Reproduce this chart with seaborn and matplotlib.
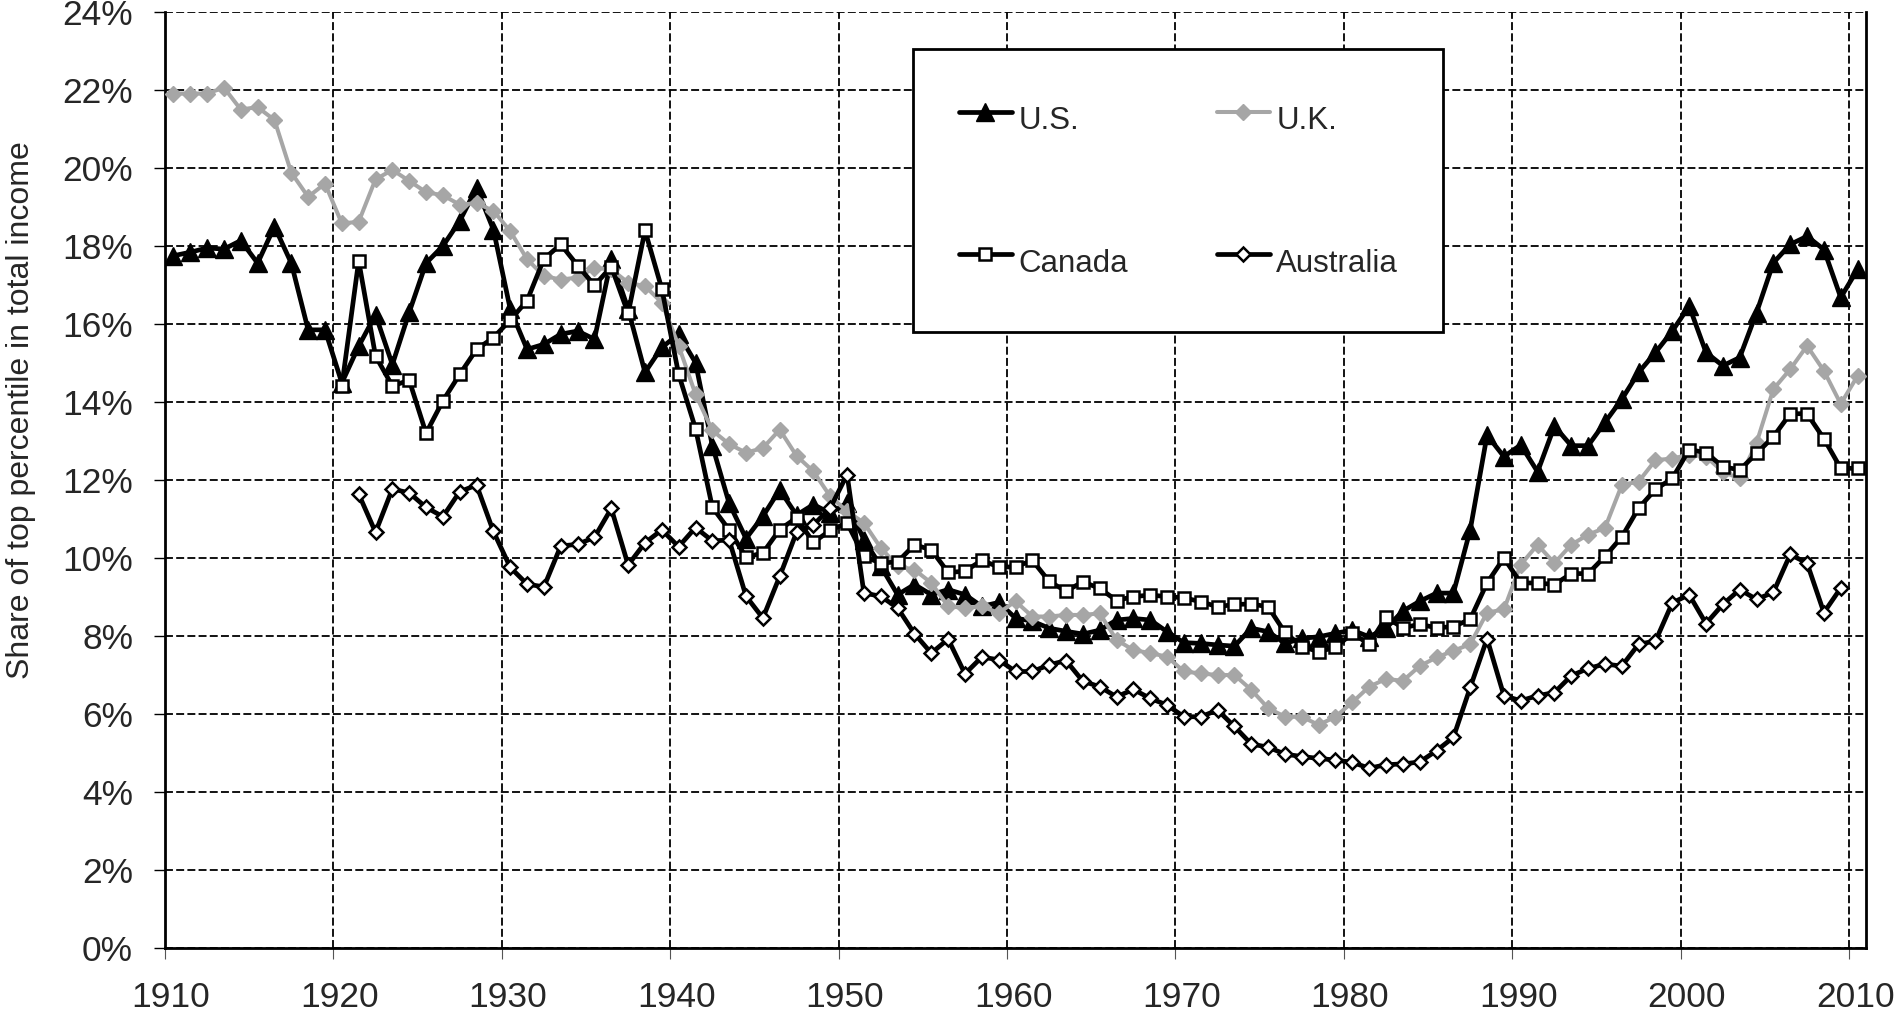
import matplotlib
matplotlib.use("Agg")
import matplotlib.pyplot as plt
from matplotlib.transforms import ScaledTranslation
import seaborn as sns
import pandas as pd

# ---------------- data (share of top 1% in total income, %) ----------------
us_years = list(range(1910, 2011))
us_share = [17.75, 17.84, 17.95, 17.92, 18.14, 17.56, 18.5, 17.56, 15.85, 15.85,
            14.49, 15.43, 16.24, 14.96, 16.3, 17.56, 18.0, 18.64, 19.49, 18.42,
            16.38, 15.35, 15.48, 15.74, 15.82, 15.61, 17.66, 16.38, 14.76, 15.4,
            15.74, 15.01, 12.88, 11.4, 10.5, 11.07, 11.75, 11.1, 11.37, 11.15,
            11.41, 10.47, 9.79, 9.06, 9.32, 9.06, 9.19, 9.06, 8.76, 8.86,
            8.46, 8.38, 8.2, 8.12, 8.05, 8.15, 8.41, 8.45, 8.41, 8.11,
            7.83, 7.81, 7.77, 7.74, 8.2, 8.11, 7.81, 7.94, 7.98, 8.07,
            8.15, 7.98, 8.2, 8.64, 8.89, 9.1, 9.1, 10.72, 13.15, 12.6,
            12.9, 12.21, 13.38, 12.88, 12.88, 13.48, 14.07, 14.76, 15.27, 15.82,
            16.46, 15.27, 14.93, 15.14, 16.29, 17.57, 18.04, 18.25, 17.91, 16.68,
            17.4]

uk_years = list(range(1910, 2011))
uk_share = [21.91, 21.91, 21.91, 22.06, 21.5, 21.56, 21.23, 19.88, 19.26, 19.6,
            18.58, 18.62, 19.71, 19.95, 19.67, 19.38, 19.3, 19.06, 19.1, 18.9,
            18.38, 17.66, 17.23, 17.14, 17.19, 17.44, 17.4, 17.06, 16.97, 16.55,
            15.44, 14.2, 13.27, 12.92, 12.7, 12.82, 13.29, 12.62, 12.22, 11.58,
            11.2, 10.9, 10.26, 9.79, 9.7, 9.36, 8.76, 8.72, 8.76, 8.59,
            8.89, 8.5, 8.5, 8.54, 8.54, 8.58, 7.9, 7.64, 7.56, 7.47,
            7.09, 7.04, 7.0, 7.0, 6.62, 6.15, 5.93, 5.93, 5.72, 5.93,
            6.3, 6.7, 6.9, 6.85, 7.23, 7.45, 7.62, 7.79, 8.6, 8.68,
            9.83, 10.34, 9.87, 10.34, 10.6, 10.77, 11.87, 11.96, 12.51, 12.55,
            12.65, 12.6, 12.21, 12.04, 12.95, 14.33, 14.84, 15.44, 14.8, 13.95,
            14.67]

canada_years = list(range(1920, 2011))
canada_share = [14.41, 17.62, 15.18, 14.41, 14.56, 13.2, 14.03, 14.71, 15.35, 15.65,
                16.1, 16.6, 17.67, 18.04, 17.5, 16.99, 17.47, 16.27, 18.4, 16.9,
                14.71, 13.32, 11.3, 10.72, 10.02, 10.13, 10.73, 11.03, 10.4, 10.71,
                10.9, 10.04, 9.87, 9.9, 10.34, 10.21, 9.63, 9.66, 9.94, 9.77,
                9.77, 9.94, 9.4, 9.15, 9.39, 9.22, 8.91, 9.01, 9.05, 9.01,
                8.98, 8.88, 8.75, 8.81, 8.82, 8.75, 8.09, 7.73, 7.6, 7.71,
                8.07, 7.79, 8.48, 8.21, 8.3, 8.21, 8.24, 8.43, 9.36, 10.0,
                9.36, 9.36, 9.32, 9.6, 9.6, 10.04, 10.54, 11.28, 11.76, 12.04,
                12.78, 12.7, 12.34, 12.26, 12.68, 13.11, 13.7, 13.7, 13.06, 12.3,
                12.3]

australia_years = list(range(1921, 2010))
australia_share = [11.64, 10.66, 11.77, 11.67, 11.3, 11.06, 11.7, 11.87, 10.68,
                   9.76, 9.33, 9.26, 10.31, 10.35, 10.53, 11.27, 9.82, 10.39, 10.72,
                   10.29, 10.78, 10.44, 10.46, 9.02, 8.46, 9.53, 10.66, 10.85, 11.28,
                   12.14, 9.1, 9.02, 8.72, 8.06, 7.56, 7.92, 7.03, 7.46, 7.39,
                   7.09, 7.09, 7.26, 7.37, 6.84, 6.7, 6.44, 6.63, 6.4, 6.23,
                   5.93, 5.93, 6.1, 5.68, 5.23, 5.15, 4.97, 4.91, 4.86, 4.82,
                   4.76, 4.61, 4.7, 4.72, 4.77, 5.06, 5.4, 6.68, 7.93, 6.47,
                   6.34, 6.47, 6.55, 6.98, 7.17, 7.28, 7.23, 7.79, 7.87, 8.85,
                   9.06, 8.32, 8.81, 9.19, 8.94, 9.12, 10.09, 9.87, 8.6, 9.23]

x_tick_labels = ["1910", "1920", "1930", "1940", "1950", "1960",
                 "1970", "1980", "1990", "2000", "2010"]
y_tick_values = [0, 2, 4, 6, 8, 10, 12, 14, 16, 18, 20, 22, 24]
y_tick_labels = [f"{v}%" for v in y_tick_values]
y_label = "Share of top percentile in total income"

# ---------------- style ----------------
sns.set_style("white")
plt.rcParams["font.family"] = ["Liberation Sans", "DejaVu Sans"]

fig = plt.figure(figsize=(19.01, 10.11), dpi=100)
ax = fig.add_axes([165 / 1901, 1 - 948 / 1011, (1866 - 165) / 1901, (948 - 12) / 1011])

series = [
    ("U.S.", us_years, us_share,
     dict(color="black", lw=3.4, marker="^", ms=13, mfc="black", mec="black", mew=1)),
    ("U.K.", uk_years, uk_share,
     dict(color="#A6A6A6", lw=2.9, marker="D", ms=8.5, mfc="#A6A6A6", mec="#A6A6A6", mew=1)),
    ("Canada", canada_years, canada_share,
     dict(color="black", lw=3.4, marker="s", ms=9.3, mfc="white", mec="black", mew=1.8)),
    ("Australia", australia_years, australia_share,
     dict(color="black", lw=3.4, marker="D", ms=7.6, mfc="white", mec="black", mew=1.8)),
]

handles = {}
for i, (name, yrs, vals, st) in enumerate(series):
    df = pd.DataFrame({"year": yrs, "share": vals})
    sns.lineplot(data=df, x="year", y="share", ax=ax, color=st["color"], linewidth=st["lw"],
                 marker=st["marker"], markersize=st["ms"], markerfacecolor=st["mfc"],
                 markeredgecolor=st["mec"], markeredgewidth=st["mew"], zorder=3 + i,
                 legend=False, label=name)
    handles[name] = ax.lines[-1]

# axes: Excel-like category axis (ticks between categories)
ax.set_xlim(1909.5, 2010.5)
ax.set_ylim(0, 24)
ax.set_xticks([1909.5 + 10 * k for k in range(len(x_tick_labels))])
ax.set_xticklabels(x_tick_labels)
ax.set_yticks(y_tick_values)
ax.set_yticklabels(y_tick_labels)
ax.set_xlabel("")
ax.set_ylabel(y_label, fontsize=23)
ax.yaxis.set_label_coords(-0.076, 0.575)

ax.tick_params(axis="y", direction="out", length=8, width=1.0, color="black",
               labelsize=25.5, pad=15, left=True)
ax.tick_params(axis="x", direction="out", length=8, width=0.8, color="#555555",
               labelsize=25.5, pad=16, bottom=True)
shift = ScaledTranslation(6 / 100, 0, fig.dpi_scale_trans)
for lab in ax.get_xticklabels():
    lab.set_transform(lab.get_transform() + shift)

ax.grid(True, color="black", linestyle=(0, (4.4, 1.8)), linewidth=1.3)
ax.set_axisbelow(True)

for side in ["left", "bottom", "right"]:
    ax.spines[side].set_visible(True)
    ax.spines[side].set_color("black")
    ax.spines[side].set_linewidth(2.0)
ax.spines["top"].set_visible(False)

order = ["U.S.", "Canada", "U.K.", "Australia"]
leg = ax.legend([handles[n] for n in order], order, ncol=2, loc="upper left",
                bbox_to_anchor=(0.44, 0.9605), borderaxespad=0, fontsize=22.5,
                frameon=True, fancybox=False, framealpha=1, edgecolor="black",
                borderpad=1.45, handlelength=1.7, handletextpad=0.2,
                handleheight=2.1, labelspacing=2.95, columnspacing=2.85)
leg.get_frame().set_linewidth(2.0)
leg.set_zorder(10)

fig.savefig("out.png", dpi=100)
